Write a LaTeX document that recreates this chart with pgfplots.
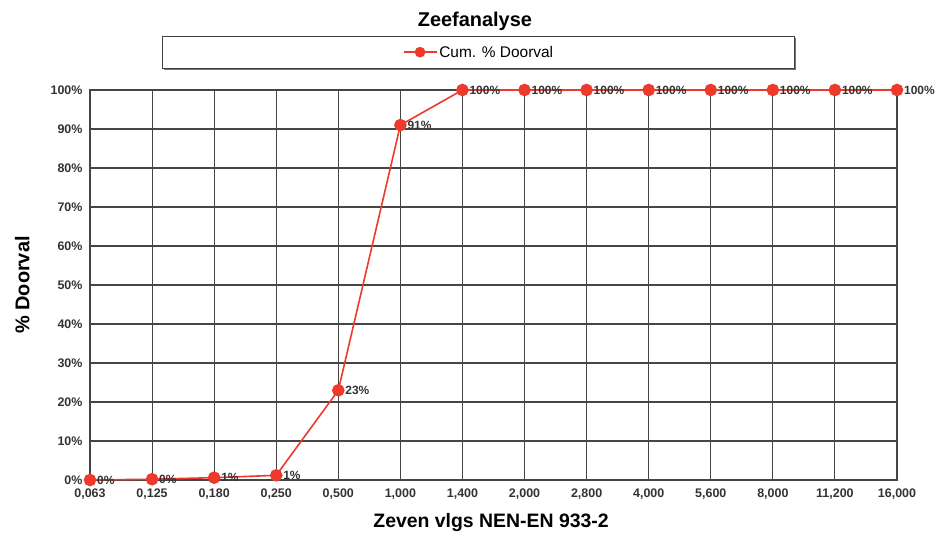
\documentclass[border=0pt]{standalone}
\usepackage{pgfplots}
\pgfplotsset{compat=1.18}
\usetikzlibrary{shadows}
\usepackage{fontspec}
\setmainfont{Liberation Sans}
\definecolor{serie}{HTML}{EE3A2C}
\definecolor{grid}{HTML}{454545}
\definecolor{ticktext}{HTML}{333333}
\begin{document}
\begin{tikzpicture}
\useasboundingbox (-90bp,-54bp) rectangle (856bp,480bp);
\begin{axis}[
  scale only axis,
  width=807bp, height=390bp,
  xmin=0, xmax=13,
  ymin=0, ymax=100,
  xtick={0,...,13},
  xticklabels={{0,063},{0,125},{0,180},{0,250},{0,500},{1,000},{1,400},{2,000},{2,800},{4,000},{5,600},{8,000},{11,200},{16,000}},
  ytick={0,10,...,100},
  yticklabels={0\%,10\%,20\%,30\%,40\%,50\%,60\%,70\%,80\%,90\%,100\%},
  ticklabel style={font=\fontsize{12.5}{14}\selectfont\bfseries, text=ticktext},
  tick style={draw=none},
  grid=major,
  grid style={draw=grid, line width=1.1bp},
  axis line style={draw=grid, line width=1.3bp},
  xticklabel style={yshift=-5bp},
  yticklabel style={xshift=-4bp},
  legend style={draw=none, fill=none, at={(0.482,1.097)}, anchor=center,
    font=\fontsize{15.5}{17}\selectfont},
  legend image code/.code={
    \draw[#1, mark=none] (0bp,0bp) -- (33bp,0bp);
    \draw[#1, only marks, mark size=4.5bp] plot coordinates {(16.5bp,0bp)};},
  legend cell align=left,
  clip=false,
]
\node[draw=black!75, line width=1bp, fill=white, minimum width=632bp, minimum height=32bp,
  drop shadow={shadow xshift=0.8bp, shadow yshift=-1.5bp, fill=black!55, opacity=1}]
  at (axis description cs:0.482,1.097) {};
\addplot[serie, line width=1.6bp, mark=*, mark size=5.5bp,
  mark options={fill=serie, draw=serie},
  nodes near coords, point meta=explicit symbolic,
  every node near coord/.append style={anchor=west, xshift=3bp,
    font=\fontsize{12}{14}\selectfont\bfseries, text=ticktext}]
coordinates {
(0,0) [0\%]
(1,0.2) [0\%]
(2,0.6) [1\%]
(3,1.2) [1\%]
(4,23) [23\%]
(5,91) [91\%]
(6,100) [100\%]
(7,100) [100\%]
(8,100) [100\%]
(9,100) [100\%]
(10,100) [100\%]
(11,100) [100\%]
(12,100) [100\%]
(13,100) [100\%]
};
\addlegendentry{Cum. \% Doorval}
\node[font=\fontsize{20}{22}\selectfont\bfseries] at (axis description cs:0.477,1.177) {Zeefanalyse};
\node[font=\fontsize{19.5}{22}\selectfont\bfseries] at (axis description cs:0.497,-0.108) {Zeven vlgs NEN-EN 933-2};
\node[font=\fontsize{20}{22}\selectfont\bfseries, rotate=90] at (axis description cs:-0.084,0.5) {\% Doorval};
\end{axis}
\end{tikzpicture}
\end{document}
